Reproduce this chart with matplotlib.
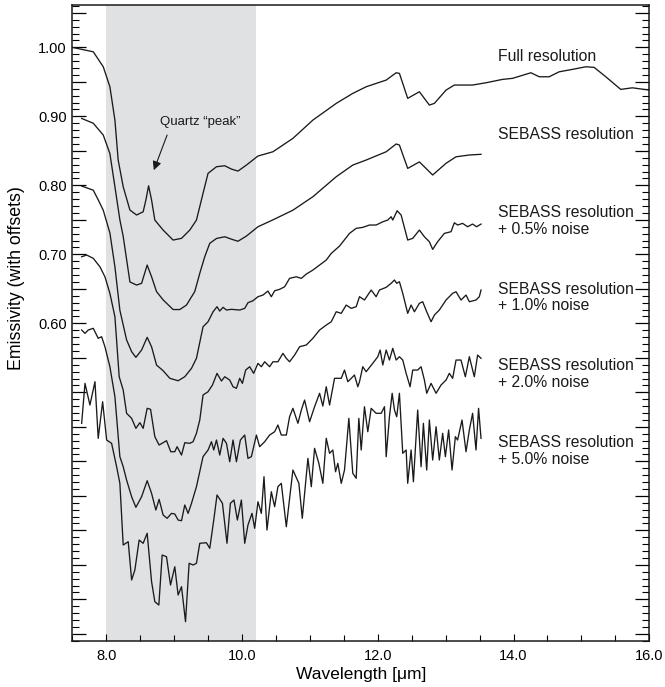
import matplotlib
matplotlib.use("Agg")
import matplotlib.pyplot as plt
from matplotlib.ticker import MultipleLocator, FuncFormatter

plt.rcParams['font.family'] = ['Liberation Sans', 'DejaVu Sans']

# ---------------- data ----------------
full_x = [7.50, 7.809, 7.956, 8.054, 8.128, 8.176, 8.25, 8.349, 8.447, 8.544, 8.584, 8.624, 8.668,
          8.716, 8.838, 8.985, 9.109, 9.231, 9.329, 9.426, 9.50, 9.624, 9.746, 9.844, 9.941, 10.065,
          10.235, 10.456, 10.75, 11.044, 11.388, 11.632, 11.829, 12.124, 12.271, 12.319, 12.441,
          12.613, 12.76, 12.834, 13.006, 13.128, 13.397, 13.594, 13.838, 13.985, 14.256, 14.378,
          14.525, 14.672, 14.868, 15.065, 15.187, 15.359, 15.579, 15.75, 16.0]
full_y = [1.000, 0.9936, 0.9719, 0.9429, 0.8946, 0.8367, 0.798, 0.7642, 0.757, 0.7617, 0.7787, 0.7994,
          0.7787, 0.7497, 0.7352, 0.7207, 0.7232, 0.7352, 0.7497, 0.7884, 0.8174, 0.827, 0.8284,
          0.8236, 0.8207, 0.8294, 0.8425, 0.8487, 0.8681, 0.8946, 0.9188, 0.9333, 0.9429, 0.9526,
          0.9632, 0.9623, 0.9261, 0.9357, 0.9164, 0.9188, 0.9381, 0.9454, 0.9454, 0.9487, 0.9536,
          0.9551, 0.9632, 0.9574, 0.9574, 0.9646, 0.9681, 0.9719, 0.971, 0.9574, 0.9391, 0.9414,
          0.9381]

sebass_x = [7.638, 7.809, 7.956, 8.054, 8.128, 8.201, 8.25, 8.349, 8.447, 8.521, 8.603, 8.668, 8.741,
            8.838, 8.985, 9.084, 9.182, 9.304, 9.378, 9.451, 9.525, 9.624, 9.746, 9.844, 9.941,
            10.065, 10.235, 10.456, 10.75, 11.044, 11.388, 11.632, 11.829, 12.124, 12.271, 12.319,
            12.441, 12.613, 12.809, 13.006, 13.153, 13.349, 13.521]
sebass_y = [0.897, 0.890, 0.873, 0.846, 0.798, 0.750, 0.726, 0.660, 0.6555, 0.658, 0.6845, 0.6675,
            0.646, 0.634, 0.620, 0.620, 0.6265, 0.646, 0.6725, 0.6965, 0.716, 0.723, 0.7255, 0.722,
            0.719, 0.7265, 0.740, 0.750, 0.764, 0.7835, 0.8125, 0.8294, 0.8367, 0.8487, 0.860,
            0.8584, 0.8246, 0.834, 0.815, 0.832, 0.8414, 0.844, 0.845]

n05_x = [7.638, 7.809, 7.882, 7.956, 8.054, 8.128, 8.201, 8.30, 8.374, 8.437, 8.521, 8.603, 8.668,
         8.741, 8.838, 8.937, 9.059, 9.157, 9.256, 9.329, 9.426, 9.50, 9.574, 9.632, 9.672, 9.721,
         9.771, 9.844, 9.966, 10.04, 10.088, 10.162, 10.235, 10.309, 10.382, 10.432, 10.481,
         10.554, 10.628, 10.701, 10.80, 10.874, 10.947, 11.044, 11.143, 11.241, 11.315, 11.437,
         11.584, 11.682, 11.779, 11.878, 11.976, 12.074, 12.147, 12.197, 12.221, 12.285, 12.344,
         12.441, 12.515, 12.613, 12.687, 12.76, 12.809, 12.882, 12.981, 13.079, 13.128, 13.176,
         13.25, 13.324, 13.397, 13.456, 13.521]
n05_y = [0.799, 0.793, 0.779, 0.764, 0.731, 0.682, 0.619, 0.576, 0.559, 0.5507, 0.5613, 0.5797,
         0.566, 0.5396, 0.5313, 0.5203, 0.5168, 0.5226, 0.5348, 0.5493, 0.595, 0.6023, 0.6168,
         0.6241, 0.6178, 0.6232, 0.6193, 0.6203, 0.6193, 0.6217, 0.6299, 0.6328, 0.6386, 0.641,
         0.6468, 0.6386, 0.6472, 0.6493, 0.653, 0.6652, 0.6675, 0.6652, 0.6714, 0.6772, 0.6845,
         0.6917, 0.7014, 0.712, 0.7304, 0.7377, 0.7391, 0.7425, 0.7425, 0.7472, 0.7497, 0.7545,
         0.7497, 0.7632, 0.757, 0.7207, 0.7232, 0.7352, 0.7255, 0.7183, 0.7072, 0.7183, 0.7304,
         0.7328, 0.7458, 0.7425, 0.7449, 0.740, 0.7439, 0.740, 0.7439]

n10_x = [7.638, 7.712, 7.809, 7.907, 7.981, 8.054, 8.128, 8.191, 8.25, 8.30, 8.374, 8.437, 8.496,
         8.544, 8.603, 8.653, 8.716, 8.779, 8.888, 8.951, 9.01, 9.044, 9.109, 9.157, 9.231, 9.279,
         9.329, 9.378, 9.426, 9.50, 9.565, 9.632, 9.697, 9.746, 9.819, 9.868, 9.918, 9.966, 10.006,
         10.054, 10.113, 10.172, 10.235, 10.285, 10.334, 10.407, 10.456, 10.529, 10.603, 10.653,
         10.701, 10.775, 10.849, 10.947, 11.044, 11.143, 11.241, 11.315, 11.388, 11.462, 11.535,
         11.609, 11.682, 11.731, 11.804, 11.903, 11.976, 12.025, 12.124, 12.197, 12.246, 12.279,
         12.319, 12.368, 12.441, 12.491, 12.54, 12.613, 12.662, 12.721, 12.785, 12.834, 12.907,
         13.006, 13.103, 13.153, 13.226, 13.30, 13.349, 13.447, 13.496, 13.521]
n10_y = [0.6965, 0.699, 0.6942, 0.682, 0.6675, 0.6435, 0.6096, 0.5226, 0.5033, 0.4696, 0.4623,
         0.4478, 0.456, 0.4478, 0.4768, 0.4754, 0.4357, 0.4236, 0.4299, 0.4139, 0.4139, 0.4212,
         0.4091, 0.427, 0.4261, 0.4284, 0.4406, 0.4599, 0.4961, 0.5009, 0.5106, 0.5275, 0.5164,
         0.5226, 0.5178, 0.5081, 0.5058, 0.5203, 0.513, 0.5323, 0.5371, 0.5275, 0.542, 0.5371,
         0.5443, 0.5371, 0.5443, 0.5443, 0.5565, 0.5493, 0.5443, 0.554, 0.5661, 0.5686, 0.5783,
         0.5903, 0.5975, 0.6023, 0.6168, 0.6145, 0.6265, 0.6217, 0.6241, 0.6386, 0.6338, 0.6483,
         0.6386, 0.6483, 0.6522, 0.658, 0.6628, 0.658, 0.6603, 0.6435, 0.6145, 0.6265, 0.6168,
         0.629, 0.6313, 0.6168, 0.6023, 0.612, 0.6193, 0.6338, 0.6435, 0.6458, 0.6338, 0.641,
         0.6313, 0.6338, 0.6386, 0.6483]

n20_x = [7.638, 7.687, 7.735, 7.809, 7.882, 7.932, 7.981, 8.054, 8.128, 8.201, 8.25, 8.30, 8.374,
         8.437, 8.521, 8.603, 8.668, 8.731, 8.779, 8.838, 8.897, 8.962, 9.01, 9.059, 9.109, 9.157,
         9.206, 9.256, 9.329, 9.426, 9.50, 9.55, 9.584, 9.624, 9.672, 9.721, 9.771, 9.819, 9.868,
         9.918, 9.976, 10.04, 10.088, 10.138, 10.212, 10.26, 10.334, 10.407, 10.481, 10.529,
         10.579, 10.653, 10.701, 10.75, 10.824, 10.874, 10.922, 10.996, 11.069, 11.143, 11.191,
         11.241, 11.29, 11.363, 11.462, 11.51, 11.559, 11.609, 11.657, 11.706, 11.731, 11.779,
         11.829, 11.926, 12.0, 12.035, 12.074, 12.124, 12.172, 12.221, 12.271, 12.319, 12.368,
         12.418, 12.476, 12.515, 12.588, 12.638, 12.687, 12.721, 12.785, 12.859, 12.932, 13.006,
         13.054, 13.103, 13.153, 13.226, 13.29, 13.349, 13.422, 13.471, 13.521]
n20_y = [0.5903, 0.5855, 0.5903, 0.5928, 0.5783, 0.5806, 0.5661, 0.5371, 0.4936, 0.4067, 0.3922,
         0.3729, 0.3487, 0.3333, 0.3487, 0.3719, 0.3536, 0.3294, 0.3449, 0.3222, 0.3174, 0.3246,
         0.3236, 0.3149, 0.3139, 0.3367, 0.3246, 0.3391, 0.3632, 0.4067, 0.4164, 0.4284, 0.4164,
         0.4309, 0.4091, 0.4333, 0.4261, 0.3994, 0.4309, 0.3994, 0.4309, 0.4381, 0.4043, 0.4067,
         0.4381, 0.4212, 0.4284, 0.4381, 0.4429, 0.4526, 0.4381, 0.4381, 0.4646, 0.4768, 0.4551,
         0.4743, 0.4888, 0.4574, 0.4791, 0.4986, 0.4801, 0.5081, 0.4816, 0.5203, 0.5203, 0.5323,
         0.5154, 0.5203, 0.5251, 0.5081, 0.5154, 0.5371, 0.5299, 0.542, 0.5516, 0.5613, 0.5396,
         0.5613, 0.5468, 0.5638, 0.5468, 0.5516, 0.5468, 0.5275, 0.5081, 0.5323, 0.5323, 0.5371,
         0.5178, 0.4986, 0.513, 0.4986, 0.5106, 0.5178, 0.5275, 0.5203, 0.5468, 0.5468, 0.5226,
         0.5516, 0.5226, 0.554, 0.5493]

n50_x = [7.638, 7.687, 7.76, 7.834, 7.882, 7.947, 8.006, 8.079, 8.153, 8.201, 8.25, 8.324, 8.374,
         8.422, 8.485, 8.544, 8.603, 8.668, 8.716, 8.775, 8.824, 8.888, 8.947, 9.01, 9.059, 9.109,
         9.168, 9.221, 9.279, 9.329, 9.378, 9.476, 9.525, 9.584, 9.632, 9.712, 9.779, 9.829, 9.882,
         9.932, 9.991, 10.04, 10.088, 10.147, 10.187, 10.235, 10.285, 10.324, 10.368, 10.432,
         10.481, 10.529, 10.579, 10.653, 10.75, 10.838, 10.888, 10.971, 11.021, 11.069, 11.132,
         11.191, 11.241, 11.29, 11.338, 11.378, 11.412, 11.462, 11.51, 11.574, 11.632, 11.682,
         11.721, 11.756, 11.804, 11.853, 11.903, 11.976, 12.05, 12.099, 12.124, 12.172, 12.212,
         12.246, 12.279, 12.319, 12.368, 12.418, 12.441, 12.491, 12.525, 12.588, 12.638, 12.672,
         12.721, 12.76, 12.809, 12.859, 12.907, 12.956, 12.996, 13.044, 13.094, 13.143, 13.176,
         13.241, 13.30, 13.349, 13.397, 13.447, 13.485, 13.521]
n50_y = [0.455, 0.513, 0.4816, 0.5154, 0.4333, 0.4864, 0.4309, 0.4261, 0.3922, 0.3681, 0.2787,
         0.2835, 0.228, 0.2425, 0.2859, 0.2812, 0.2957, 0.2255, 0.1965, 0.1917, 0.2642, 0.2617,
         0.2207, 0.2472, 0.2062, 0.2183, 0.1675, 0.2522, 0.2497, 0.2522, 0.2812, 0.282, 0.2739,
         0.3149, 0.3512, 0.3391, 0.2812, 0.3391, 0.3439, 0.3149, 0.3439, 0.2812, 0.3077, 0.3246,
         0.3029, 0.3414, 0.3246, 0.3777, 0.3004, 0.3559, 0.3342, 0.3632, 0.3681, 0.3052, 0.3874,
         0.3681, 0.3174, 0.4043, 0.3632, 0.4188, 0.3971, 0.3681, 0.4333, 0.4116, 0.4164, 0.3849,
         0.3971, 0.3681, 0.3874, 0.4623, 0.3826, 0.3754, 0.4623, 0.4164, 0.4791, 0.4429, 0.4768,
         0.4696, 0.4696, 0.4791, 0.4067, 0.4646, 0.4986, 0.4743, 0.4646, 0.4986, 0.4116, 0.4164,
         0.3681, 0.4164, 0.3704, 0.4743, 0.3922, 0.4551, 0.3874, 0.4599, 0.4019, 0.4501, 0.4019,
         0.4406, 0.4067, 0.4454, 0.3874, 0.4357, 0.4309, 0.4599, 0.4139, 0.4454, 0.4696, 0.4164,
         0.4768, 0.4333]

series = [(full_x, full_y), (sebass_x, sebass_y), (n05_x, n05_y),
          (n10_x, n10_y), (n20_x, n20_y), (n50_x, n50_y)]

curve_labels = ["Full resolution", "SEBASS resolution", "SEBASS resolution\n+ 0.5% noise",
                "SEBASS resolution\n+ 1.0% noise", "SEBASS resolution\n+ 2.0% noise",
                "SEBASS resolution\n+ 5.0% noise"]
label_y = [0.987, 0.874, 0.7485, 0.6375, 0.526, 0.4155]

band = (8.0, 10.2)
ytick_labels = [0.60, 0.70, 0.80, 0.90, 1.00]

# ---------------- figure ----------------
fig = plt.figure(figsize=(6.65, 6.87), dpi=100)
ax = fig.add_axes([0.1087, 0.0674, 0.9764 - 0.1087, 0.9923 - 0.0674])

ax.axvspan(band[0], band[1], color='#e0e1e3', lw=0, zorder=0)
for xs, ys in series:
    ax.plot(xs, ys, color='#1a1a1a', lw=0.95, zorder=2)

ax.set_xlim(7.5, 16.0)
ax.set_ylim(0.14, 1.061)

ax.xaxis.set_major_locator(MultipleLocator(2.0))
ax.xaxis.set_minor_locator(MultipleLocator(0.5))
ax.xaxis.set_major_formatter(FuncFormatter(lambda v, p: f"{v:.1f}"))
ax.yaxis.set_major_locator(MultipleLocator(0.05))
ax.yaxis.set_minor_locator(MultipleLocator(0.01))

def yfmt(v, p):
    for t in ytick_labels:
        if abs(v - t) < 1e-6:
            return f"{t:.2f}"
    return ""
ax.yaxis.set_major_formatter(FuncFormatter(yfmt))

ax.tick_params(axis='x', which='major', direction='in', length=5, width=0.8,
               labelsize=10.5, pad=6, top=False)
ax.tick_params(axis='x', which='minor', direction='in', length=4, width=0.8, top=False)
ax.tick_params(axis='y', which='major', direction='in', length=10, width=0.9,
               labelsize=10.5, right=True, pad=4)
ax.tick_params(axis='y', which='minor', direction='in', length=5, width=0.8, right=True)
for s in ax.spines.values():
    s.set_linewidth(1.1)
    s.set_color('#1a1a1a')

ax.set_xlabel("Wavelength [\u03bcm]", fontsize=12.5, labelpad=3)
ax.set_ylabel("Emissivity (with offsets)", fontsize=12.8)
ax.yaxis.set_label_coords(-0.082, 0.57)

for txt, yy in zip(curve_labels, label_y):
    ax.text(13.77, yy, txt, fontsize=11.3, ha='left', va='center', linespacing=1.15,
            color='#1a1a1a')

ax.text(9.388, 0.892, "Quartz \u201cpeak\u201d", fontsize=9.5, ha='center', va='center',
        color='#1a1a1a')
ax.annotate("", xy=(8.701, 0.822), xytext=(8.897, 0.873),
            arrowprops=dict(arrowstyle='-|>', color='#1a1a1a', lw=0.8,
                            mutation_scale=13, shrinkA=0, shrinkB=0))

fig.savefig("out.png", dpi=100)
